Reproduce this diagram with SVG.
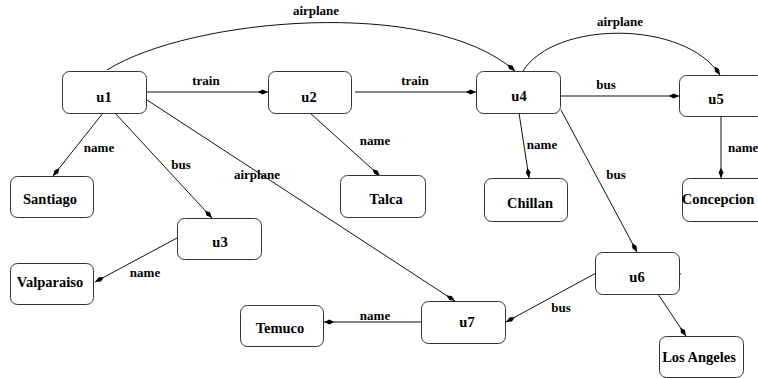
<svg xmlns="http://www.w3.org/2000/svg" width="758" height="378" viewBox="0 0 758 378" font-family="Liberation Serif">
<style>
.box{fill:#fff;stroke:#333;stroke-width:1}
.nt{font-weight:bold;font-size:14.5px;fill:#000;text-anchor:middle}
.el{font-weight:bold;font-size:13px;fill:#000;text-anchor:middle}
.e{fill:none;stroke:#111;stroke-width:1}
</style>
<defs>
<marker id="ah" viewBox="0 -3 10 6" refX="10" refY="0" markerWidth="10" markerHeight="6" markerUnits="userSpaceOnUse" orient="auto">
<path d="M0,0 L4.5,-2.4 L10,0 L4.5,2.4 Z" fill="#000"/>
</marker>
</defs>
<rect width="758" height="378" fill="#fff"/>
<g id="connectors" font-family="Liberation Serif">
<path class="e" d="M147,92 L268,92" marker-end="url(#ah)"/>
<path class="e" d="M355,92 L476,92" marker-end="url(#ah)"/>
<path class="e" d="M561,96 L679,96" marker-end="url(#ah)"/>
<path class="e" d="M107,70 C190,18 430,-4 515,71" marker-end="url(#ah)"/>
<path class="e" d="M523,71 C555,20 685,20 720,75" marker-end="url(#ah)"/>
<path class="e" d="M103,113 L53,176" marker-end="url(#ah)"/>
<path class="e" d="M115,113 L212,218" marker-end="url(#ah)"/>
<path class="e" d="M147,100 L455,301" marker-end="url(#ah)"/>
<path class="e" d="M310,113 L380,176" marker-end="url(#ah)"/>
<path class="e" d="M519,113 L529,178" marker-end="url(#ah)"/>
<path class="e" d="M561,110 L637,252" marker-end="url(#ah)"/>
<path class="e" d="M721,116 L721,178" marker-end="url(#ah)"/>
<path class="e" d="M177,238 L95,282" marker-end="url(#ah)"/>
<path class="e" d="M421,322 L324,322" marker-end="url(#ah)"/>
<path class="e" d="M596,273 L506,322" marker-end="url(#ah)"/>
<path class="e" d="M658,294 L686,336" marker-end="url(#ah)"/>
<path class="e" d="M679,274 L681,274"/>
<text class="el" x="206" y="85">train</text>
<text class="el" x="415" y="85">train</text>
<text class="el" x="606" y="89">bus</text>
<text class="el" x="316" y="15">airplane</text>
<text class="el" x="620" y="26">airplane</text>
<text class="el" x="99" y="152">name</text>
<text class="el" x="181" y="169">bus</text>
<text class="el" x="257" y="179">airplane</text>
<text class="el" x="375" y="145">name</text>
<text class="el" x="542" y="149">name</text>
<text class="el" x="616" y="179">bus</text>
<text class="el" x="728" y="152" text-anchor="start" style="text-anchor:start">name</text>
<text class="el" x="145" y="277">name</text>
<text class="el" x="375" y="320">name</text>
<text class="el" x="561" y="312">bus</text>
</g>
<g id="u1" font-family="Liberation Serif"><rect class="box" x="62.5" y="71.5" width="84" height="42" rx="7"/><text class="nt" x="104" y="102">u1</text></g>
<g id="u2" font-family="Liberation Serif"><rect class="box" x="268.5" y="71.5" width="83" height="42" rx="7"/><text class="nt" x="309" y="102">u2</text></g>
<g id="u4" font-family="Liberation Serif"><rect class="box" x="476.5" y="71.5" width="84" height="42" rx="7"/><text class="nt" x="519" y="101">u4</text></g>
<g id="u5" font-family="Liberation Serif"><rect class="box" x="679.5" y="75.5" width="84" height="41" rx="7"/><text class="nt" x="716" y="103.5">u5</text></g>
<g id="santiago" font-family="Liberation Serif"><rect class="box" x="10.5" y="176.5" width="83" height="41" rx="7"/><text class="nt" x="50" y="203.5">Santiago</text></g>
<g id="talca" font-family="Liberation Serif"><rect class="box" x="340.5" y="175.5" width="85" height="42" rx="7"/><text class="nt" x="386" y="204">Talca</text></g>
<g id="chillan" font-family="Liberation Serif"><rect class="box" x="484.5" y="178.5" width="83" height="43" rx="7"/><text class="nt" x="530" y="207.5">Chillan</text></g>
<g id="concepcion" font-family="Liberation Serif"><rect class="box" x="682.5" y="178.5" width="84" height="43" rx="7"/><text class="nt" x="718" y="204">Concepcion</text></g>
<g id="u3" font-family="Liberation Serif"><rect class="box" x="177.5" y="218.5" width="84" height="41" rx="7"/><text class="nt" x="220" y="247">u3</text></g>
<g id="valparaiso" font-family="Liberation Serif"><rect class="box" x="10.5" y="263.5" width="83" height="41" rx="7"/><text class="nt" x="50" y="287">Valparaiso</text></g>
<g id="u6" font-family="Liberation Serif"><rect class="box" x="595.5" y="252.5" width="84" height="42" rx="7"/><text class="nt" x="637" y="281.5">u6</text></g>
<g id="u7" font-family="Liberation Serif"><rect class="box" x="421.5" y="301.5" width="84" height="42" rx="7"/><text class="nt" x="467" y="326.5">u7</text></g>
<g id="temuco" font-family="Liberation Serif"><rect class="box" x="240.5" y="305.5" width="83" height="41" rx="7"/><text class="nt" x="280" y="333">Temuco</text></g>
<g id="losangeles" font-family="Liberation Serif"><rect class="box" x="659.5" y="336.5" width="84" height="41" rx="7"/><text class="nt" x="699" y="362">Los Angeles</text></g>
</svg>
